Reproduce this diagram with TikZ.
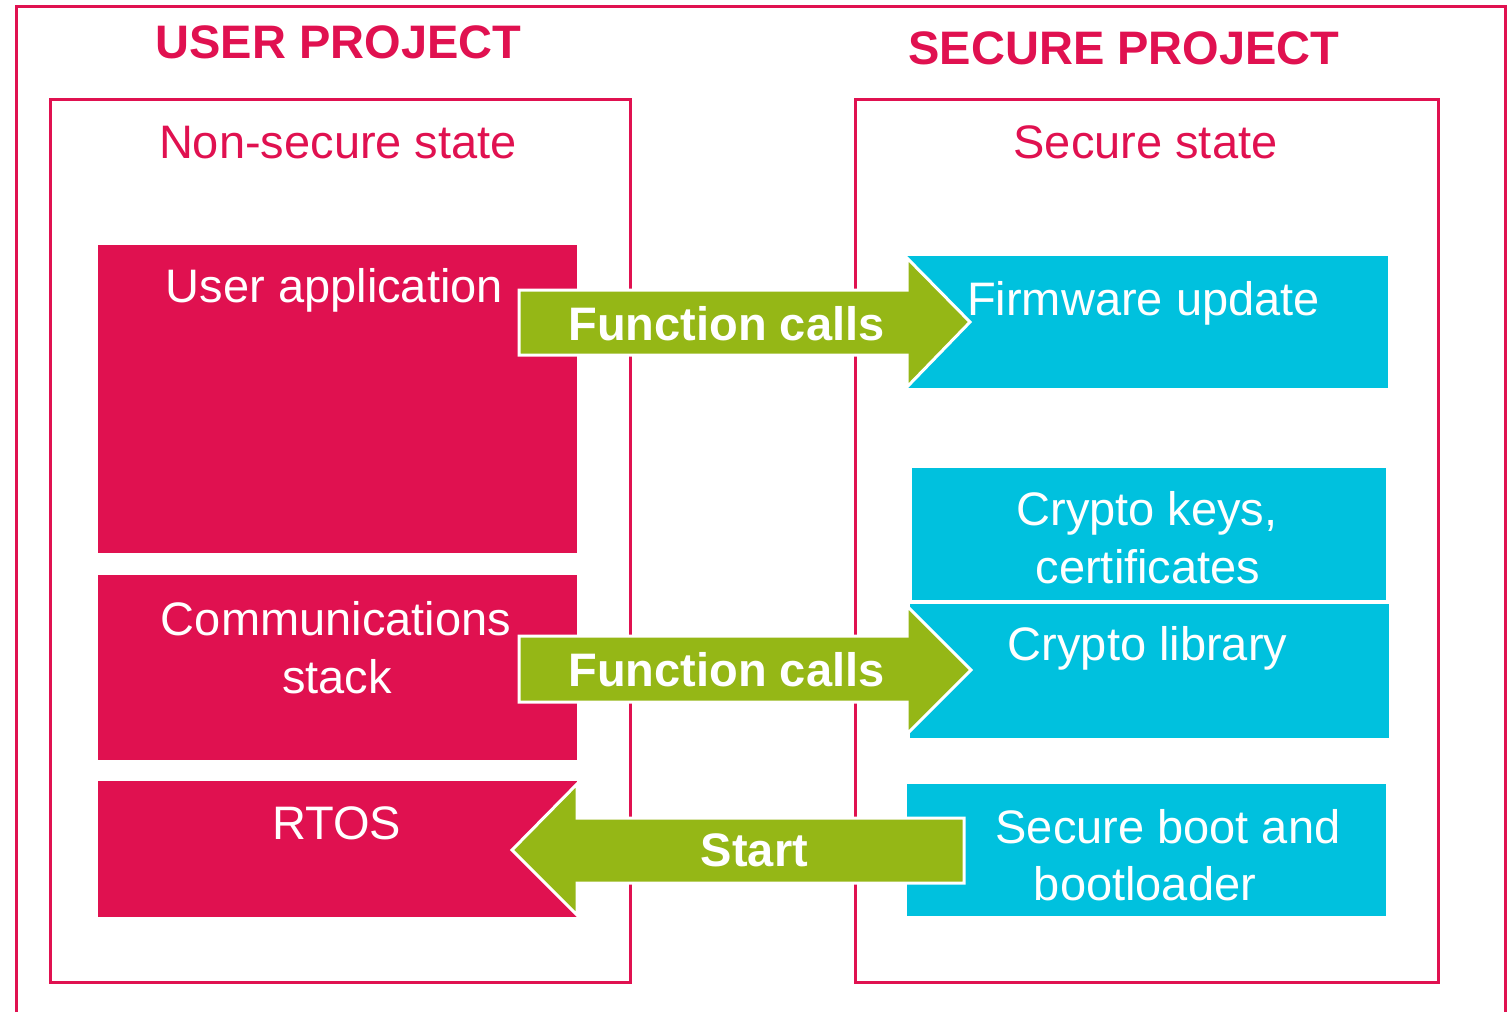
\documentclass[tikz,border=0pt]{standalone}
\usepackage{fontspec}
\setmainfont{Liberation Sans}
\definecolor{stpink}{RGB}{224,17,80}
\definecolor{stcyan}{RGB}{0,193,222}
\definecolor{stgreen}{RGB}{149,183,22}
\begin{document}
\begin{tikzpicture}[x=0.5pt,y=-0.5pt,
  frame/.style={draw=stpink,line width=1.5pt},
  nsblock/.style={fill=stpink,draw=none,inner sep=0pt},
  sblock/.style={fill=stcyan,draw=none,inner sep=0pt},
  blockarrow/.style={fill=stgreen,draw=white,line width=1.5pt,line join=miter},
  title/.style={text=stpink,font=\fontsize{23.5}{28}\selectfont\bfseries,anchor=base,inner sep=0pt},
  state/.style={text=stpink,font=\fontsize{23.5}{28}\selectfont,anchor=base,inner sep=0pt},
  label/.style={text=white,font=\fontsize{23.5}{28}\selectfont,anchor=base,inner sep=0pt},
  arrowtext/.style={text=white,font=\fontsize{23.5}{28}\selectfont\bfseries,anchor=base,inner sep=0pt}]
\useasboundingbox (0,0) rectangle (1509,1012);

% outer frame, open at the bottom
\draw[frame] (16,1012) -- (16,6) -- (1505,6) -- (1505,1012);

% the two state frames
\node[frame,inner sep=0pt,minimum width=290pt,minimum height=441.5pt] (nsframe) at (340,540.5) {};
\node[frame,inner sep=0pt,minimum width=291.5pt,minimum height=441.5pt] (sframe) at (1146.5,540.5) {};

% non-secure blocks
\node[nsblock,minimum width=239.5pt,minimum height=154pt] (userapp) at (337.5,399) {};
\node[nsblock,minimum width=239.5pt,minimum height=92.5pt] (comms) at (337.5,667.5) {};
\node[nsblock,minimum width=239.5pt,minimum height=68pt] (rtos) at (337.5,849) {};

% secure blocks
\node[sblock,minimum width=240.5pt,minimum height=66pt] (fwupdate) at (1147.5,322) {};
\node[sblock,minimum width=237pt,minimum height=66pt] (cryptokeys) at (1149,534) {};
\node[sblock,minimum width=239.5pt,minimum height=67pt] (cryptolib) at (1149.5,671) {};
\node[sblock,minimum width=239.5pt,minimum height=66pt] (secboot) at (1146.5,850) {};

% block arrows between the two worlds
\filldraw[blockarrow] (519,290) -- (907,290) -- (907,258) -- (970,322) -- (907,387) -- (907,355) -- (519,355) -- cycle;
\filldraw[blockarrow] (519,636) -- (907,636) -- (907,606) -- (971,670) -- (907,734) -- (907,702) -- (519,702) -- cycle;
\filldraw[blockarrow] (964,818) -- (577,818) -- (577,784) -- (512,850) -- (577,915) -- (577,883) -- (964,883) -- cycle;

% titles
\node[title] (usertitle) at (338.5,58) {USER PROJECT};
\node[title] (securetitle) at (1124,64) {SECURE PROJECT};
\node[state] (nstate) at (338,158) {Non-secure state};
\node[state] (sstate) at (1145.5,158) {Secure state};

% block labels
\node[label] (userapptext) at (334.5,302) {User application};
\node[label] (commstext1) at (336,635) {Communications};
\node[label] (commstext2) at (337,693) {stack};
\node[label] (rtostext) at (336.5,839) {RTOS};
\node[label] (fwtext) at (1143.5,315) {Firmware update};
\node[label] (keystext1) at (1147,525) {Crypto keys,};
\node[label] (keystext2) at (1148,583) {certificates};
\node[label] (libtext) at (1147.5,660) {Crypto library};
\node[label] (boottext1) at (1168,843) {Secure boot and};
\node[label] (boottext2) at (1145,900) {bootloader};

% arrow labels
\node[arrowtext] (call1) at (726.5,340) {Function calls};
\node[arrowtext] (call2) at (726.5,686) {Function calls};
\node[arrowtext] (starttext) at (754.5,866) {Start};
\end{tikzpicture}
\end{document}
